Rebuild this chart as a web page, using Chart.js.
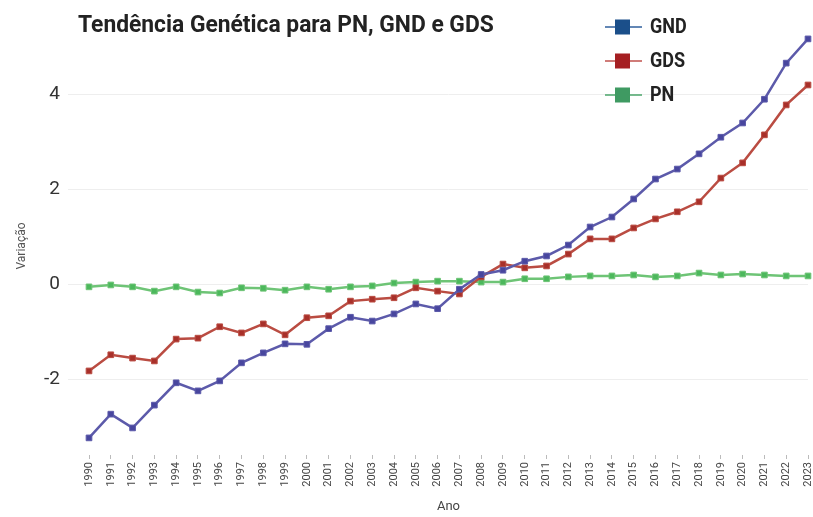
<!DOCTYPE html>
<html>
<head>
<meta charset="utf-8">
<script src="https://cdn.jsdelivr.net/npm/chart.js@4"></script>
<style>
  html, body { margin: 0; padding: 0; background: #fff; }
  #wrap { width: 813px; height: 517px; }
</style>
</head>
<body>
<div id="wrap"><canvas id="trend-chart" width="813" height="517"></canvas></div>
<script>
(() => {
    const chartTitle = 'Tendência Genética para PN, GND e GDS';
    const seriesNames = ['GND', 'GDS', 'PN'];
    const years = [
        '1990', '1991', '1992', '1993', '1994', '1995', '1996', '1997', '1998', '1999',
        '2000', '2001', '2002', '2003', '2004', '2005', '2006', '2007', '2008', '2009',
        '2010', '2011', '2012', '2013', '2014', '2015', '2016', '2017', '2018', '2019',
        '2020', '2021', '2022', '2023'
    ];
    const gnd = [
        -3.24, -2.74, -3.03, -2.55, -2.08, -2.25, -2.04, -1.66, -1.45, -1.26,
        -1.27, -0.94, -0.70, -0.78, -0.63, -0.42, -0.52, -0.11, 0.20, 0.29,
        0.48, 0.59, 0.82, 1.20, 1.41, 1.79, 2.21, 2.42, 2.74, 3.09,
        3.39, 3.89, 4.65, 5.16
    ];
    const gds = [
        -1.83, -1.49, -1.56, -1.62, -1.16, -1.14, -0.90, -1.03, -0.84, -1.07,
        -0.71, -0.67, -0.36, -0.32, -0.29, -0.08, -0.15, -0.21, 0.15, 0.42,
        0.34, 0.38, 0.63, 0.95, 0.95, 1.18, 1.37, 1.52, 1.73, 2.23,
        2.55, 3.14, 3.77, 4.19
    ];
    const pn = [
        -0.06, -0.02, -0.06, -0.15, -0.06, -0.17, -0.19, -0.08, -0.09, -0.13,
        -0.06, -0.11, -0.06, -0.04, 0.02, 0.04, 0.06, 0.06, 0.04, 0.04,
        0.11, 0.11, 0.15, 0.17, 0.17, 0.19, 0.15, 0.17, 0.23, 0.19,
        0.21, 0.19, 0.17, 0.17
    ];
    const yTicks = [-2, 0, 2, 4];

    const fontFamily = "Roboto, 'Liberation Sans', sans-serif";
    const colors = {
        gndLine: 'rgb(92, 90, 170)',
        gndPoint: 'rgb(72, 70, 158)',
        gdsLine: 'rgb(186, 76, 66)',
        gdsPoint: 'rgb(168, 48, 42)',
        pnLine: 'rgb(110, 196, 118)',
        pnPoint: 'rgb(76, 184, 92)'
    };
    const legendColors = [
        { line: '#2f5f9c', box: '#1b4f8a' },
        { line: '#c0504d', box: '#a51f22' },
        { line: '#4aa56a', box: '#3f9a62' }
    ];

    // draws text squeezed sideways, the original uses a condensed face
    const narrowText = (ctx, text, x, y, squeeze) => {
        ctx.save();
        ctx.translate(x, y);
        ctx.scale(squeeze, 1);
        ctx.fillText(text, 0, 0);
        ctx.restore();
    };

    // title + legend drawn on top of the plot, like the original
    const headerPlugin = {
        id: 'header',
        afterDraw(chart) {
            const ctx = chart.ctx;
            ctx.save();
            ctx.fillStyle = '#222';
            ctx.font = 'bold 24px ' + fontFamily;
            ctx.textAlign = 'left';
            ctx.textBaseline = 'alphabetic';
            narrowText(ctx, chartTitle, 78, 32, 0.95);

            ctx.font = 'bold 20px ' + fontFamily;
            ctx.textBaseline = 'middle';
            chart.data.datasets.forEach((ds, i) => {
                const y = 27 + i * 34;
                ctx.strokeStyle = legendColors[i].line;
                ctx.lineWidth = 1.5;
                ctx.beginPath();
                ctx.moveTo(605, y);
                ctx.lineTo(642, y);
                ctx.stroke();
                ctx.fillStyle = legendColors[i].box;
                ctx.fillRect(615, y - 7.5, 15, 15);
                ctx.fillStyle = '#222';
                narrowText(ctx, ds.label, 650, y + 1, 0.9);
            });
            ctx.restore();
        }
    };

    const lineSet = (label, data, line, point) => ({
        label: label,
        data: data,
        borderColor: line,
        backgroundColor: point,
        pointBackgroundColor: point,
        pointBorderColor: line,
        pointBorderWidth: 1,
        pointStyle: 'rect',
        pointRadius: 4,
        borderWidth: 2.5,
        tension: 0,
        clip: false
    });

    const ctx = document.getElementById('trend-chart').getContext('2d');
    const trendChart = new Chart(ctx, {
        type: 'line',
        data: {
            labels: years,
            datasets: [
                lineSet(seriesNames[0], gnd, colors.gndLine, colors.gndPoint),
                lineSet(seriesNames[1], gds, colors.gdsLine, colors.gdsPoint),
                lineSet(seriesNames[2], pn, colors.pnLine, colors.pnPoint)
            ]
        },
        options: {
            responsive: false,
            animation: false,
            layout: { padding: { top: 37, right: 2, left: 0, bottom: 0 } },
            plugins: {
                legend: { display: false },
                title: { display: false },
                tooltip: { enabled: false }
            },
            scales: {
                x: {
                    offset: false,
                    afterFit: axis => {
                        axis.height = 62;
                        axis.paddingLeft = 0;
                        axis.paddingRight = 0;
                    },
                    grid: { drawOnChartArea: false, tickLength: 4, color: '#bbb' },
                    border: { display: false },
                    ticks: {
                        autoSkip: false,
                        minRotation: 90,
                        maxRotation: 90,
                        padding: 3,
                        color: '#444',
                        font: { family: fontFamily, size: 11 }
                    },
                    title: {
                        display: true,
                        text: 'Ano',
                        color: '#444',
                        font: { family: fontFamily, size: 13 },
                        padding: { top: 0, bottom: 2 }
                    }
                },
                y: {
                    min: -3.6,
                    max: 5.2,
                    afterBuildTicks: axis => {
                        axis.ticks = yTicks.map(v => ({ value: v }));
                    },
                    afterFit: axis => { axis.width = 89; },
                    grid: { color: '#eeeeee', tickLength: 21 },
                    border: { display: false },
                    ticks: {
                        padding: 8,
                        color: '#333',
                        font: { family: fontFamily, size: 19 }
                    },
                    title: {
                        display: true,
                        text: 'Variação',
                        color: '#555',
                        font: { family: fontFamily, size: 12 },
                        padding: { top: 15, bottom: 0 }
                    }
                }
            }
        },
        plugins: [headerPlugin]
    });
})();
</script>
</body>
</html>
